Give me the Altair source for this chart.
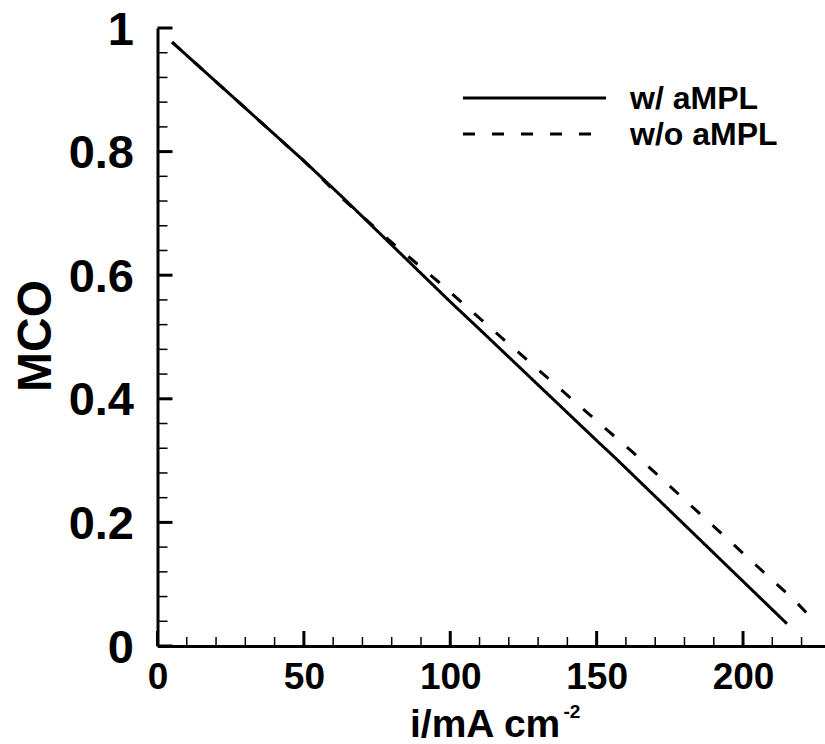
import altair as alt
import pandas as pd

# ---- data ----
series_names = ["w/ aMPL", "w/o aMPL"]
solid_x = [5, 50, 63, 100, 109, 151, 156, 215]
solid_y = [0.977, 0.785, 0.727, 0.557, 0.517, 0.328, 0.306, 0.036]
dashed_x = [5, 50, 62, 79, 96, 112, 152, 162, 218, 224.6]
dashed_y = [0.977, 0.785, 0.729, 0.657, 0.589, 0.522, 0.356, 0.315, 0.072, 0.039]

x_major_ticks = [0, 50, 100, 150, 200]
x_minor_ticks = [10, 20, 30, 40, 60, 70, 80, 90, 110, 120, 130, 140,
                 160, 170, 180, 190, 210, 220]
y_major_ticks = [0, 0.2, 0.4, 0.6, 0.8, 1.0]
y_minor_ticks = [0.04, 0.08, 0.12, 0.16, 0.24, 0.28, 0.32, 0.36,
                 0.44, 0.48, 0.52, 0.56, 0.64, 0.68, 0.72, 0.76,
                 0.84, 0.88, 0.92, 0.96]

x_domain = [0, 228]
y_domain = [0, 1]

FONT = "Liberation Sans"
W, H = 667.5, 618
DASHES = [[1, 0], [12, 17]]

lines_df = pd.concat([
    pd.DataFrame({"i": solid_x, "mco": solid_y, "series": series_names[0], "order": range(len(solid_x))}),
    pd.DataFrame({"i": dashed_x, "mco": dashed_y, "series": series_names[1], "order": range(len(dashed_x))}),
])

xs = alt.Scale(domain=x_domain, nice=False, zero=False)
ys = alt.Scale(domain=y_domain, nice=False, zero=False)

ax_x = alt.Axis(values=x_major_ticks, ticks=False, grid=False,
                domainColor="black", domainWidth=3,
                labelFont=FONT, labelFontWeight="bold", labelFontSize=37,
                labelColor="black", labelPadding=13, labelFlush=False, title=None)
ax_y = alt.Axis(values=y_major_ticks, ticks=False, grid=False,
                domainColor="black", domainWidth=3,
                labelFont=FONT, labelFontWeight="bold", labelFontSize=47,
                labelColor="black", labelPadding=24, labelOffset=2,
                labelFlush=False, format="~g", title=None)

lines = alt.Chart(lines_df).mark_line(color="black", strokeWidth=3).encode(
    x=alt.X("i:Q", scale=xs, axis=ax_x),
    y=alt.Y("mco:Q", scale=ys, axis=ax_y),
    strokeDash=alt.StrokeDash("series:N", scale=alt.Scale(domain=series_names, range=DASHES), legend=None),
    detail="series:N",
    order="order:Q",
)

# inward ticks drawn as rules through the shared scales
xmaj = alt.Chart(pd.DataFrame({"i": x_major_ticks})).mark_rule(color="black", strokeWidth=3).encode(
    x=alt.X("i:Q", scale=xs, axis=ax_x), y=alt.value(H), y2=alt.value(H - 15))
xmin = alt.Chart(pd.DataFrame({"i": x_minor_ticks})).mark_rule(color="black", strokeWidth=1.5).encode(
    x=alt.X("i:Q", scale=xs, axis=ax_x), y=alt.value(H), y2=alt.value(H - 9))
ymaj = alt.Chart(pd.DataFrame({"mco": y_major_ticks})).mark_rule(color="black", strokeWidth=3).encode(
    y=alt.Y("mco:Q", scale=ys, axis=ax_y), x=alt.value(0), x2=alt.value(15))
ymin = alt.Chart(pd.DataFrame({"mco": y_minor_ticks})).mark_rule(color="black", strokeWidth=1.5).encode(
    y=alt.Y("mco:Q", scale=ys, axis=ax_y), x=alt.value(0), x2=alt.value(10))

# legend (custom, top right)
leg_layers = []
for name, dash, yrow in zip(series_names, DASHES, [70, 106]):
    leg_layers.append(
        alt.Chart(pd.DataFrame({"s": [name]})).mark_rule(color="black", strokeWidth=3, strokeDash=dash).encode(
            x=alt.value(305.5), x2=alt.value(448.5), y=alt.value(yrow))
    )
    leg_layers.append(
        alt.Chart(pd.DataFrame({"s": [name]})).mark_text(
            font=FONT, fontWeight="bold", fontSize=32, align="left", baseline="alphabetic", color="black"
        ).encode(x=alt.value(472.5), y=alt.value(yrow + 11), text="s:N")
    )

# axis titles
x_title = alt.Chart(pd.DataFrame({"t": ["i/mA cm"]})).mark_text(
    font=FONT, fontWeight="bold", fontSize=39, align="left", baseline="alphabetic", color="black"
).encode(x=alt.value(252.5), y=alt.value(708.7), text="t:N")
x_sup = alt.Chart(pd.DataFrame({"t": ["-2"]})).mark_text(
    font=FONT, fontWeight="bold", fontSize=19, align="left", baseline="alphabetic", color="black"
).encode(x=alt.value(406), y=alt.value(690), text="t:N")
y_title = alt.Chart(pd.DataFrame({"t": ["MCO"]})).mark_text(
    font=FONT, fontWeight="bold", fontSize=48, align="center", baseline="alphabetic", color="black", angle=270
).encode(x=alt.value(-106.5), y=alt.value(308), text="t:N")

chart = alt.layer(
    lines, xmaj, xmin, ymaj, ymin, *leg_layers, x_title, x_sup, y_title
).properties(
    width=W, height=H,
    autosize=alt.AutoSizeParams(type="none"),
    padding={"left": 157.5, "top": 28, "right": 0, "bottom": 98},
    background="white",
).configure_view(stroke=None)

chart.save("out.html", embed_options={"renderer": "svg", "actions": False})
